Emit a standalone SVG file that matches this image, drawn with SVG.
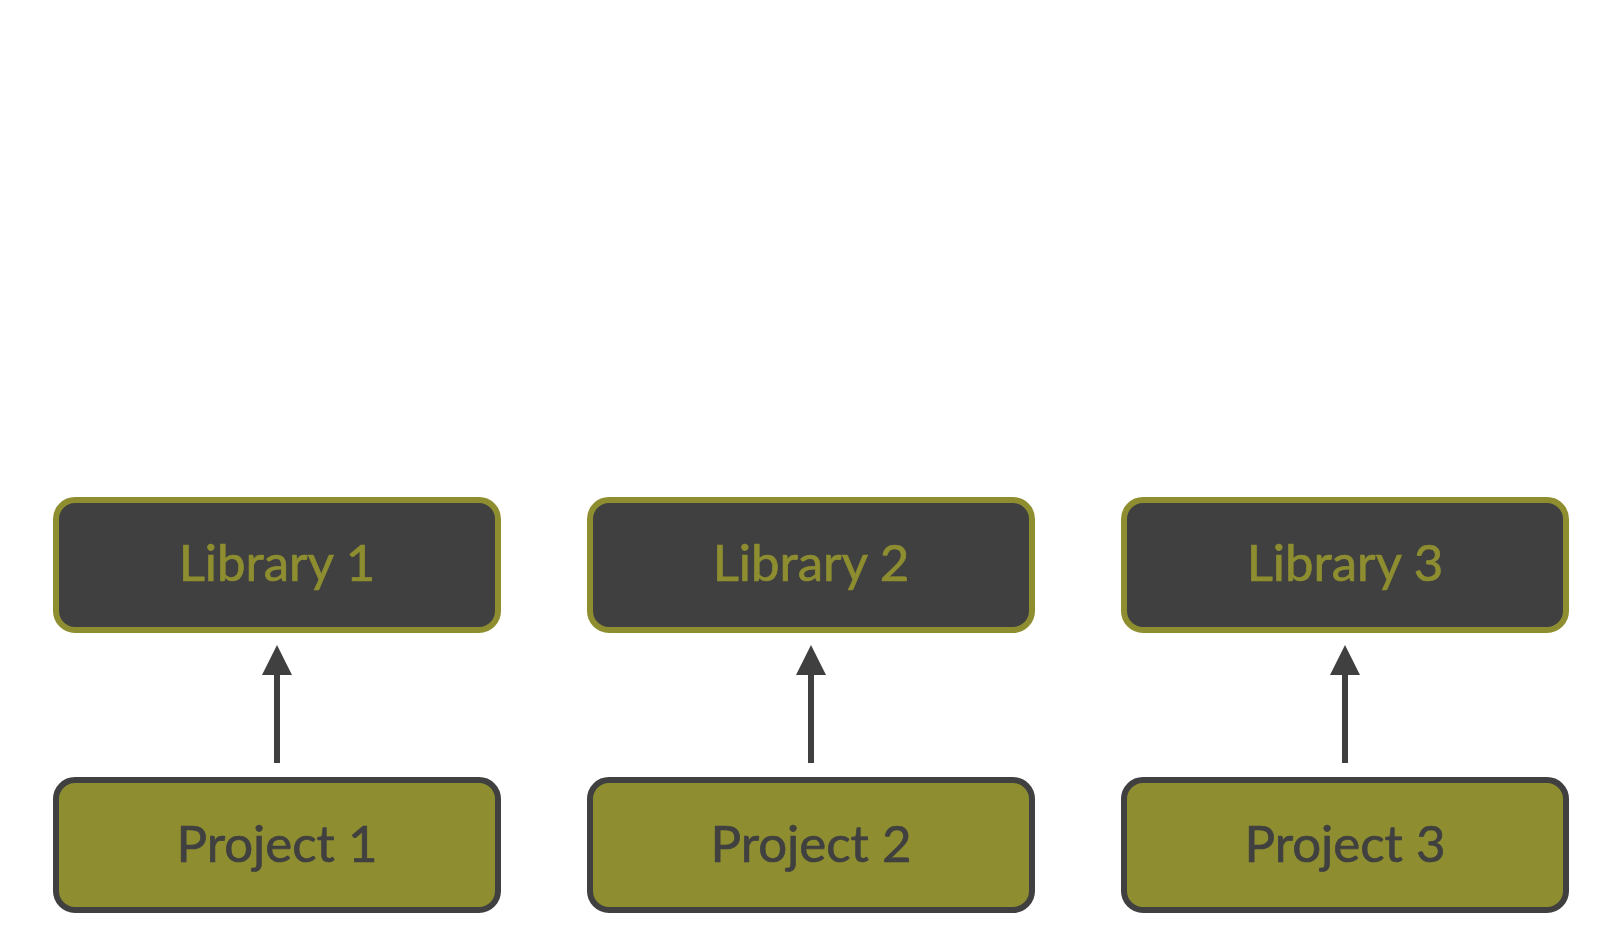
<svg xmlns="http://www.w3.org/2000/svg" width="1622" height="943" viewBox="0 0 1622 943">
  <style>
    .lib rect { fill: #404040; stroke: #8E8E31; stroke-width: 6; }
    .lib text { fill: #8E8E31; stroke: #8E8E31; }
    .proj rect { fill: #8E8E31; stroke: #404040; stroke-width: 6; }
    .proj text { fill: #404040; stroke: #404040; }
    text { font-family: Lato, "Noto Sans", sans-serif; font-size: 51px; text-anchor: middle; stroke-width: 0.7; }
    .conn line { stroke: #404040; stroke-width: 6; }
  </style>
  <defs>
    <marker id="arrow" markerUnits="userSpaceOnUse" markerWidth="30" markerHeight="30" refX="0" refY="15" orient="auto" viewBox="0 0 30 30">
      <path d="M0,0 L30,15 L0,30 Z" fill="#404040"/>
    </marker>
  </defs>
  <rect width="1622" height="943" fill="#ffffff"/>
  <g id="library-1" class="lib">
    <rect x="56" y="500" width="442" height="130" rx="19" ry="19"/>
    <text x="277" y="581">Library 1</text>
  </g>
  <g id="library-2" class="lib">
    <rect x="590" y="500" width="442" height="130" rx="19" ry="19"/>
    <text x="811" y="581">Library 2</text>
  </g>
  <g id="library-3" class="lib">
    <rect x="1124" y="500" width="442" height="130" rx="19" ry="19"/>
    <text x="1345" y="581">Library 3</text>
  </g>
  <g id="project-1" class="proj">
    <rect x="56" y="780" width="442" height="130" rx="19" ry="19"/>
    <text x="277" y="862">Project 1</text>
  </g>
  <g id="project-2" class="proj">
    <rect x="590" y="780" width="442" height="130" rx="19" ry="19"/>
    <text x="811" y="862">Project 2</text>
  </g>
  <g id="project-3" class="proj">
    <rect x="1124" y="780" width="442" height="130" rx="19" ry="19"/>
    <text x="1345" y="862">Project 3</text>
  </g>
  <g id="connectors" class="conn">
    <line x1="277" y1="763" x2="277" y2="675" marker-end="url(#arrow)"/>
    <line x1="811" y1="763" x2="811" y2="675" marker-end="url(#arrow)"/>
    <line x1="1345" y1="763" x2="1345" y2="675" marker-end="url(#arrow)"/>
  </g>
</svg>
